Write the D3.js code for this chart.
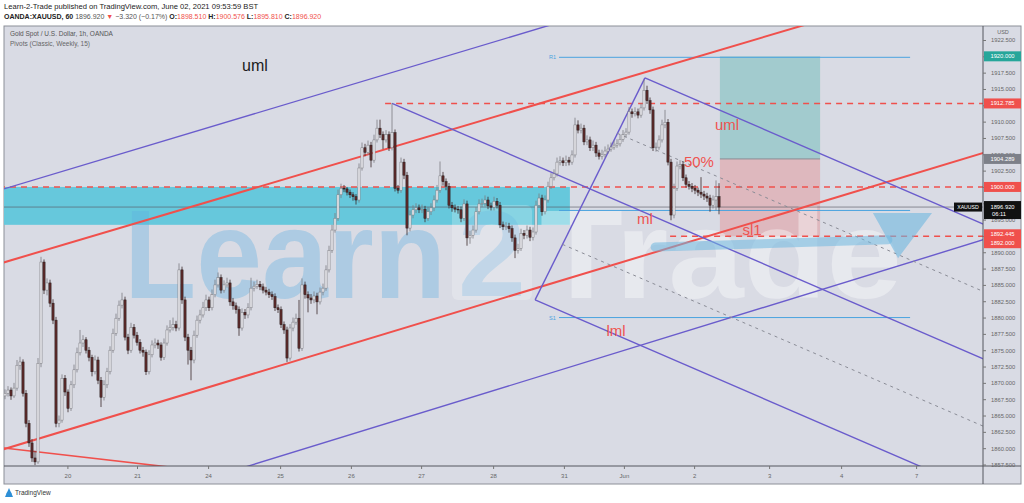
<!DOCTYPE html>
<html><head><meta charset="utf-8">
<script src="https://cdn.jsdelivr.net/npm/d3@7"></script>
<style>
body{margin:0;background:#fff;}
svg{display:block;}
text{font-family:"Liberation Sans",Arial,sans-serif;}
</style>
</head><body>
<svg id="c" width="1024" height="503"></svg>
<script>
// ---------- DATA ----------
const firstOpen = 1868.0;
const closes = [
1868.4,1868.9,1868.0,1869.2,1872.7,1873.2,1868.4,1863.8,1860.8,1858.5,
1857.9,1873.0,1888.5,1884.2,1885.3,1882.2,1879.6,1863.8,1864.3,1870.7,
1868.6,1866.1,1869.7,1872.0,1874.6,1876.1,1876.6,1875.0,1873.9,1871.7,
1873.5,1870.4,1867.8,1869.7,1871.7,1875.0,1877.6,1879.9,1881.9,1882.7,
1877.0,1875.0,1878.5,1877.3,1876.2,1875.0,1874.7,1871.7,1874.3,1875.8,
1876.1,1875.8,1873.9,1876.1,1878.1,1878.5,1878.9,1878.4,1887.3,1882.7,
1877.0,1875.0,1873.5,1877.3,1879.6,1880.4,1881.5,1882.7,1881.5,1883.5,
1885.0,1886.1,1884.2,1885.0,1885.3,1882.4,1881.8,1881.2,1878.4,1880.8,
1880.4,1881.5,1884.5,1884.8,1885.1,1884.7,1884.2,1883.9,1883.5,1883.2,
1881.5,1881.2,1878.9,1878.1,1873.8,1878.4,1879.3,1879.9,1875.3,1885.0,
1883.5,1883.0,1882.7,1883.3,1882.4,1883.9,1884.5,1887.3,1890.3,1893.4,
1895.2,1898.8,1899.8,1899.7,1899.2,1898.8,1898.5,1898.0,1902.9,1906.0,
1905.3,1906.4,1904.1,1907.2,1909.0,1908.0,1907.2,1908.0,1906.0,1908.3,
1899.8,1899.5,1903.8,1901.8,1893.7,1895.7,1896.5,1896.8,1896.5,1896.6,
1895.2,1896.2,1896.8,1898.0,1899.5,1901.7,1900.8,1900.1,1897.2,1896.8,
1896.6,1896.5,1895.2,1897.4,1892.2,1892.6,1893.4,1896.2,1897.4,1897.5,
1898.0,1897.1,1896.9,1897.8,1897.2,1894.2,1893.9,1894.0,1893.6,1892.2,
1890.3,1890.6,1892.9,1892.6,1893.4,1892.3,1893.1,1897.2,1898.3,1896.2,
1898.0,1900.1,1901.4,1902.0,1903.8,1904.0,1903.7,1904.1,1903.8,1904.9,
1909.5,1908.7,1909.0,1906.9,1907.2,1906.0,1906.4,1905.2,1904.7,1905.0,
1905.5,1905.8,1906.1,1906.4,1906.6,1907.3,1908.0,1908.4,1911.5,1911.2,
1911.5,1911.0,1912.1,1914.8,1913.2,1911.8,1906.0,1906.1,1907.2,1909.5,
1909.9,1903.8,1895.7,1899.8,1903.2,1903.4,1901.4,1900.4,1900.1,1899.8,
1899.5,1899.2,1898.9,1898.6,1898.3,1897.2,1898.0,1898.5,1896.92];
const highs = [
1869.0,1869.5,1869.3,1870.0,1873.5,1874.0,1873.6,1868.9,1864.3,1861.4,
1859.6,1873.8,1889.3,1888.9,1886.0,1885.8,1882.8,1880.1,1865.0,1871.3,
1871.2,1869.0,1870.3,1872.8,1875.4,1878.1,1877.3,1877.0,1875.5,1874.3,
1874.2,1874.0,1870.9,1870.4,1872.3,1875.6,1878.3,1880.6,1882.6,1883.8,
1883.2,1877.5,1879.2,1879.0,1877.8,1876.7,1875.5,1875.1,1875.0,1876.5,
1876.8,1876.6,1876.2,1876.8,1878.8,1879.6,1880.0,1879.5,1888.3,1887.8,
1883.2,1877.5,1875.5,1878.0,1880.3,1881.2,1882.4,1883.5,1883.2,1884.3,
1885.8,1886.9,1886.6,1885.7,1886.1,1885.8,1883.0,1882.3,1881.7,1881.4,
1881.3,1882.2,1886.1,1885.5,1885.8,1885.6,1885.2,1884.7,1884.4,1884.0,
1883.7,1882.0,1881.7,1879.4,1878.6,1879.0,1880.0,1880.6,1882.7,1886.0,
1885.5,1884.0,1883.6,1884.0,1883.8,1884.6,1885.2,1888.0,1891.0,1894.2,
1896.0,1899.6,1900.5,1900.3,1900.0,1899.6,1899.2,1898.9,1903.6,1906.8,
1906.6,1907.1,1906.9,1908.0,1910.3,1910.3,1908.5,1908.7,1908.5,1912.8,
1908.8,1900.3,1904.5,1904.3,1902.3,1896.4,1897.2,1897.5,1897.3,1897.3,
1897.1,1896.9,1897.5,1898.7,1900.3,1903.9,1902.3,1901.3,1900.6,1897.7,
1897.3,1897.1,1897.0,1898.1,1897.9,1893.3,1894.1,1896.9,1898.1,1898.2,
1898.7,1898.5,1897.6,1898.5,1898.3,1897.7,1894.7,1894.6,1894.5,1894.1,
1892.7,1891.3,1893.6,1893.4,1894.1,1893.9,1893.8,1897.9,1899.0,1898.8,
1898.7,1900.8,1902.1,1902.7,1904.5,1904.7,1904.5,1904.8,1904.6,1905.6,
1910.6,1910.2,1909.7,1909.5,1907.9,1907.7,1907.1,1906.9,1905.7,1905.7,
1906.2,1906.5,1906.8,1907.1,1907.3,1908.0,1908.7,1909.0,1912.2,1912.0,
1912.2,1912.0,1912.8,1916.4,1915.5,1913.7,1912.3,1906.8,1907.9,1910.3,
1911.8,1910.4,1904.3,1900.5,1903.9,1904.1,1903.9,1901.9,1900.9,1900.6,
1900.3,1899.9,1901.5,1899.4,1899.1,1898.8,1898.7,1901.0,1900.576];
const lows = [
1867.5,1867.9,1867.4,1867.7,1868.8,1872.0,1867.9,1863.2,1860.2,1857.9,
1857.4,1857.6,1872.4,1883.6,1883.4,1881.6,1879.0,1863.2,1863.2,1863.9,
1868.0,1865.5,1865.7,1869.2,1871.6,1874.2,1875.5,1874.5,1873.3,1871.0,
1871.3,1869.8,1866.3,1867.3,1869.2,1871.3,1874.6,1877.2,1879.5,1881.4,
1876.5,1874.4,1874.6,1876.8,1875.7,1874.5,1874.0,1871.2,1871.3,1873.9,
1875.3,1875.2,1873.4,1873.5,1875.7,1877.7,1878.0,1877.9,1878.0,1882.1,
1876.4,1872.8,1870.4,1873.0,1876.9,1879.1,1880.0,1881.0,1881.0,1881.1,
1883.1,1884.6,1883.7,1883.8,1884.6,1881.8,1881.2,1880.6,1877.2,1878.0,
1879.8,1879.9,1881.1,1884.0,1884.4,1884.2,1883.7,1883.4,1883.0,1882.7,
1881.0,1880.7,1878.4,1877.5,1873.2,1873.4,1877.9,1878.9,1874.8,1874.9,
1882.9,1880.8,1882.1,1882.2,1880.5,1882.0,1883.4,1884.1,1886.9,1889.9,
1893.0,1894.8,1898.3,1899.2,1898.7,1898.3,1897.9,1897.3,1897.6,1902.5,
1904.7,1904.9,1903.0,1903.7,1906.8,1907.5,1905.8,1906.8,1905.5,1905.6,
1899.3,1899.0,1899.1,1901.2,1892.6,1893.2,1895.2,1896.0,1896.0,1896.0,
1894.6,1894.8,1895.7,1896.3,1897.6,1899.1,1900.2,1899.5,1896.7,1896.2,
1896.1,1895.9,1894.6,1894.8,1891.0,1891.3,1892.1,1893.0,1895.8,1896.9,
1897.0,1896.6,1896.4,1896.4,1896.7,1893.7,1893.4,1893.4,1893.0,1891.6,
1889.1,1889.8,1890.2,1892.0,1892.1,1891.7,1891.8,1892.7,1896.8,1895.6,
1895.8,1897.6,1899.7,1901.0,1901.6,1903.3,1903.2,1903.2,1903.3,1903.4,
1904.5,1908.2,1908.2,1906.4,1906.4,1905.5,1905.5,1904.6,1904.2,1904.2,
1904.5,1905.1,1905.4,1905.7,1906.0,1906.2,1906.9,1907.6,1908.0,1910.6,
1910.8,1910.5,1910.6,1911.7,1912.7,1911.2,1905.5,1905.4,1905.7,1906.8,
1909.0,1903.3,1894.9,1895.2,1899.4,1902.7,1900.9,1899.9,1899.6,1899.2,
1898.9,1898.6,1898.3,1898.0,1897.7,1896.2,1896.7,1896.4,1895.81];

// time axis (bar index of each date label)
const dateLabels = ["20","21","24","25","26","27","28","31","Jun","2","3","4","7"];
const dateIdx    = [20.8,44,67.7,91.7,115.3,138.7,162.7,186.3,206.3,229.7,254.7,278.7,303.7];
// price axis
const priceTicks = d3.range(1857.5, 1922.6, 2.5);
const priceTags = [
  {v:1920.000, c:"#26a69a", dy:0},
  {v:1912.785, c:"#f0504c", dy:0},
  {v:1904.289, c:"#7d8089", dy:0},
  {v:1900.000, c:"#f0504c", dy:0},
  {v:1892.445, c:"#f0504c", dy:-2},
  {v:1892.000, c:"#f0504c", dy:4}
];
const lastPrice = 1896.920;

// drawings (bar index, price)
const trendRed    = [[[0,1888.5],[265,1924.6]], [[0,1859.9],[326,1905.2]], [[0,1860.0],[55,1857.1]]];
const trendPurple = [[[0,1899.75],[180,1924.55]], [[80,1857.1],[326,1891.9]]];
const pitchA = [129, 1912.8], pitchB = [176.7, 1882.7], pitchC = [213.3, 1916.7];
const redDashed = [{p:1912.785, from:126.7}, {p:1900.0, from:-2}, {p:1892.445, from:221.7}];
const pivots = [{name:"R1", p:1919.85}, {name:"P", p:1896.4}, {name:"S1", p:1880.0}];
const pivotSpan = [181, 301.7];
const zone = {i0:-2, i1:188.3, top:1900.0, bottom:1894.2};
const position = {i0:238.3, i1:271.7, target:1920.0, entry:1904.289, stop:1892.445};
const arrowShaft = [[216.7,1890.8],[294.3,1891.9]];
const arrowHead  = [[289.3,1896.0],[309,1896.0],[297.7,1889.1]];
const redLabels = [
  {t:"uml", i:240.7, p:1908.7},
  {t:"50%", i:231.3, p:1903.0},
  {t:"ml",  i:213.3, p:1894.3},
  {t:"sl1", i:249.0, p:1892.6},
  {t:"lml", i:203.7, p:1877.1}
];
const blackLabel = {t:"uml", i:83.3, p:1917.8};

// ---------- SCALES ----------
const svg = d3.select("#c");
const plot = {l:4, t:26, r:983, b:466};
const x = d3.scaleLinear().domain([0,326]).range([5,983]);
const y = d3.scaleLinear().domain([1857.5,1922.5]).range([464.5,40]);
const P = d => [x(d[0]), y(d[1])];

// frame background
svg.append("rect").attr("x",4).attr("y",26).attr("width",1017).attr("height",458)
  .attr("fill","#d9dbe4").attr("stroke","#8c8f98").attr("stroke-width",1);

const defs = svg.append("defs");
defs.append("clipPath").attr("id","clip").append("rect")
  .attr("x",plot.l).attr("y",plot.t).attr("width",plot.r-plot.l).attr("height",plot.b-plot.t);
const g = svg.append("g").attr("clip-path","url(#clip)");

// cyan zone
g.append("rect").attr("x",x(zone.i0)).attr("y",y(zone.top))
  .attr("width",x(zone.i1)-x(zone.i0)).attr("height",y(zone.bottom)-y(zone.top))
  .attr("fill","#66c8dc");

// position tool
g.append("rect").attr("x",x(position.i0)).attr("y",y(position.target))
  .attr("width",x(position.i1)-x(position.i0)).attr("height",y(position.entry)-y(position.target))
  .attr("fill","#26a69a").attr("fill-opacity",0.3);
g.append("rect").attr("x",x(position.i0)).attr("y",y(position.entry))
  .attr("width",x(position.i1)-x(position.i0)).attr("height",y(position.stop)-y(position.entry))
  .attr("fill","#f0504c").attr("fill-opacity",0.25);
g.append("line").attr("x1",x(position.i0)).attr("x2",x(position.i1))
  .attr("y1",y(position.entry)).attr("y2",y(position.entry)).attr("stroke","#8a8d96").attr("stroke-width",1);

// watermark
const wm = g.append("g");
wm.append("text").attr("x",124).attr("y",298).attr("font-family","Open Sans, sans-serif")
  .attr("font-size",126).attr("font-weight",600).attr("textLength",322).attr("lengthAdjust","spacingAndGlyphs")
  .attr("fill","#5fb0e0").attr("fill-opacity",0.36).text("Learn");
wm.append("rect").attr("x",452).attr("y",205).attr("width",80).attr("height",95).attr("rx",6)
  .attr("fill","#ffffff").attr("fill-opacity",0.22);
wm.append("text").attr("x",492).attr("y",296).attr("text-anchor","middle").attr("font-family","Open Sans, sans-serif")
  .attr("font-size",122).attr("font-weight",600).attr("fill","#5fb0e0").attr("fill-opacity",0.24).text("2");
wm.append("text").attr("x",540).attr("y",298).attr("font-family","Open Sans, sans-serif")
  .attr("font-size",126).attr("font-weight",600).attr("textLength",362).attr("lengthAdjust","spacingAndGlyphs")
  .attr("fill","#ffffff").attr("fill-opacity",0.38).text("Trade");

// pivots (label sits just before the line start)
pivots.forEach(pv => {
  g.append("line").attr("x1",x(pivotSpan[0])+11).attr("x2",x(pivotSpan[1]))
    .attr("y1",y(pv.p)).attr("y2",y(pv.p)).attr("stroke","#4aa3df").attr("stroke-width",1);
  if (pv.name !== "P")
    g.append("text").attr("x",x(pivotSpan[0])+1).attr("y",y(pv.p)+2).attr("font-size",5.5)
      .attr("fill","#4aa3df").text(pv.name);
});

// last price line
g.append("line").attr("x1",plot.l).attr("x2",plot.r).attr("y1",y(lastPrice)).attr("y2",y(lastPrice))
  .attr("stroke","#5a5c66").attr("stroke-width",0.8).attr("stroke-opacity",0.8);

// red dashed levels
redDashed.forEach(l => {
  g.append("line").attr("x1",x(l.from)).attr("x2",plot.r).attr("y1",y(l.p)).attr("y2",y(l.p))
    .attr("stroke","#f0504c").attr("stroke-width",1.4).attr("stroke-dasharray","6,5");
});

// extended lines helper
function extLine(p1, p2, both) {
  const dx=p2[0]-p1[0], dy=p2[1]-p1[1], k=30;
  const a = both ? [p1[0]-dx*k, p1[1]-dy*k] : p1;
  return [a, [p2[0]+dx*k, p2[1]+dy*k]];
}
function drawSeg(seg, color, w, dash) {
  const l = g.append("line").attr("x1",seg[0][0]).attr("y1",seg[0][1]).attr("x2",seg[1][0]).attr("y2",seg[1][1])
    .attr("stroke",color).attr("stroke-width",w);
  if (dash) l.attr("stroke-dasharray",dash);
}
trendPurple.forEach(t => drawSeg(extLine(P(t[0]),P(t[1]),true), "#6a5ccc", 1.4));
trendRed.forEach((t,i) => drawSeg(extLine(P(t[0]),P(t[1]),true), "#f0504c", i<2?2:1.6));

// pitchfork
const A=P(pitchA), B=P(pitchB), C=P(pitchC);
const M=[(B[0]+C[0])/2,(B[1]+C[1])/2];
const dir=[M[0]-A[0], M[1]-A[1]];
const ray = s => [s, [s[0]+dir[0]*10, s[1]+dir[1]*10]];
drawSeg([B,C], "#6a5ccc", 1.4);
drawSeg(ray(A), "#6a5ccc", 1.4);
drawSeg(ray(B), "#6a5ccc", 1.4);
drawSeg(ray(C), "#6a5ccc", 1.4);
const q1=[B[0]+(C[0]-B[0])*0.25, B[1]+(C[1]-B[1])*0.25];
const q3=[B[0]+(C[0]-B[0])*0.75, B[1]+(C[1]-B[1])*0.75];
drawSeg(ray(q1), "#8a8c96", 1, "3,4");
drawSeg(ray(q3), "#8a8c96", 1, "3,4");

// candles
const candles = closes.map((c,i)=>({i, o: i?closes[i-1]:firstOpen, c, h:highs[i], l:lows[i]}));
const cg = g.append("g");
cg.selectAll("line.w").data(candles).join("line").attr("class","w")
  .attr("x1",d=>x(d.i)).attr("x2",d=>x(d.i)).attr("y1",d=>y(d.h)).attr("y2",d=>y(d.l))
  .attr("stroke",d=>d.c>=d.o?"#7b7b80":"#3a2a2a").attr("stroke-width",0.8);
cg.selectAll("rect.b").data(candles).join("rect").attr("class","b")
  .attr("x",d=>x(d.i)-1.1).attr("width",2.2)
  .attr("y",d=>y(Math.max(d.o,d.c))).attr("height",d=>Math.max(0.8,Math.abs(y(d.o)-y(d.c))))
  .attr("fill",d=>d.c>=d.o?"#e6e6ea":"#5e2c2c")
  .attr("stroke",d=>d.c>=d.o?"#7b7b80":"#241818").attr("stroke-width",0.5);

// arrow
const s0=P(arrowShaft[0]), s1=P(arrowShaft[1]);
g.append("line").attr("x1",s0[0]).attr("y1",s0[1]).attr("x2",s1[0]).attr("y2",s1[1])
  .attr("stroke","#6fb8e0").attr("stroke-opacity",0.55).attr("stroke-width",9).attr("stroke-linecap","round");
g.append("path").attr("d", d3.line()(arrowHead.map(P))+"Z")
  .attr("fill","#6fb8e0").attr("fill-opacity",0.6);

// text labels
redLabels.forEach(l => {
  g.append("text").attr("x",x(l.i)).attr("y",y(l.p)).attr("text-anchor","middle")
    .attr("font-size",15).attr("fill","#ef5350").text(l.t);
});
g.append("text").attr("x",x(blackLabel.i)).attr("y",y(blackLabel.p)).attr("text-anchor","middle")
  .attr("font-size",16).attr("fill","#1c1c1c").text(blackLabel.t);

// chart titles
svg.append("text").attr("x",10).attr("y",36).attr("font-size",6.5).attr("fill","#555")
  .text("Gold Spot / U.S. Dollar, 1h, OANDA");
svg.append("text").attr("x",10).attr("y",46).attr("font-size",6.5).attr("fill","#666")
  .text("Pivots (Classic, Weekly, 15)");

// axes separators
svg.append("line").attr("x1",plot.r).attr("x2",plot.r).attr("y1",plot.t).attr("y2",484).attr("stroke","#55575e").attr("stroke-width",1);
svg.append("line").attr("x1",4).attr("x2",1021).attr("y1",plot.b).attr("y2",plot.b).attr("stroke","#55575e").attr("stroke-width",1);

// price axis
const yAxis = svg.append("g").attr("transform",`translate(${plot.r},0)`)
  .call(d3.axisRight(y).tickValues(priceTicks).tickFormat(d3.format(".3f")).tickSize(3).tickPadding(5));
yAxis.select(".domain").remove();
yAxis.selectAll("line").attr("stroke","#777");
yAxis.selectAll("text").attr("font-size",5.8).attr("fill","#666").attr("font-family","Liberation Sans, Arial, sans-serif");
svg.append("text").attr("x",1003).attr("y",34).attr("text-anchor","middle").attr("font-size",5.5).attr("fill","#666").text("USD");

// time axis
const xAxis = svg.append("g").attr("transform",`translate(0,${plot.b})`)
  .call(d3.axisBottom(x).tickValues(dateIdx).tickFormat((d,i)=>dateLabels[i]).tickSize(3).tickPadding(5));
xAxis.select(".domain").remove();
xAxis.selectAll("line").attr("stroke","#777");
xAxis.selectAll("text").attr("font-size",6).attr("fill","#666").attr("font-family","Liberation Sans, Arial, sans-serif");

// price tags
priceTags.forEach(t => {
  const cy = y(t.v)+t.dy;
  svg.append("rect").attr("x",984).attr("y",cy-5).attr("width",37).attr("height",10).attr("fill",t.c);
  svg.append("text").attr("x",1002.5).attr("y",cy+2).attr("text-anchor","middle").attr("font-size",5.8)
    .attr("fill","#fff").text(d3.format(".3f")(t.v));
});
const ly = y(lastPrice);
svg.append("rect").attr("x",984).attr("y",ly-6).attr("width",37).attr("height",18).attr("fill","#111");
svg.append("text").attr("x",1002.5).attr("y",ly+1.5).attr("text-anchor","middle").attr("font-size",5.8).attr("fill","#fff").text(d3.format(".3f")(lastPrice));
svg.append("text").attr("x",992).attr("y",ly+9).attr("font-size",5.8).attr("fill","#fff").text("06:11");
svg.append("rect").attr("x",954).attr("y",ly-4.5).attr("width",28).attr("height",9).attr("fill","#111");
svg.append("text").attr("x",968).attr("y",ly+2).attr("text-anchor","middle").attr("font-size",5.2).attr("fill","#fff").text("XAUUSD");

// header
svg.append("text").attr("x",4).attr("y",9).attr("font-size",7.6).attr("fill","#222")
  .text("Learn-2-Trade published on TradingView.com, June 02, 2021 09:53:59 BST");
const h2 = svg.append("text").attr("x",4).attr("y",19).attr("font-size",7).attr("fill","#222").attr("font-weight","bold");
h2.append("tspan").text("OANDA:XAUUSD, 60 ");
h2.append("tspan").attr("font-weight","normal").attr("fill","#555").text("1896.920 ");
h2.append("tspan").attr("fill","#f0504c").text("▼ ");
h2.append("tspan").attr("font-weight","normal").attr("fill","#555").text("−3.320 (−0.17%) ");
[["O:","1898.510"],["H:","1900.576"],["L:","1895.810"],["C:","1896.920"]].forEach(([k,v])=>{
  h2.append("tspan").text(k);
  h2.append("tspan").attr("font-weight","normal").attr("fill","#f0504c").text(v+" ");
});

// footer logo
const lg = svg.append("g");
lg.append("path").attr("d","M5,497 L9,488 L13,497 Z").attr("fill","#2e8fd6");
lg.append("circle").attr("cx",9).attr("cy",494).attr("r",2.5).attr("fill","#2e8fd6");
svg.append("text").attr("x",15).attr("y",495).attr("font-size",6.5).attr("fill","#333").text("TradingView");
</script>
</body></html>
